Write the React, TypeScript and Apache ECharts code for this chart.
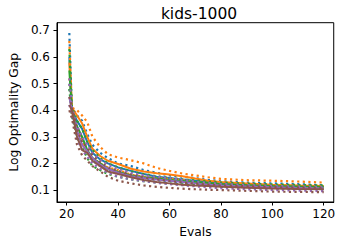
import React, { useEffect, useRef } from "react";
import * as echarts from "echarts";

const evals = [21, 22, 24, 26, 28, 30, 33, 36, 40, 45, 50, 55, 60, 65, 70, 75, 80, 90, 100, 110, 120];

const blueMean = [0.60, 0.40, 0.36, 0.33, 0.28, 0.24, 0.215, 0.200, 0.185, 0.172, 0.160, 0.150, 0.145, 0.140, 0.135, 0.130, 0.125, 0.120, 0.117, 0.115, 0.112];
const blueUpper = [0.69, 0.41, 0.38, 0.36, 0.31, 0.27, 0.240, 0.220, 0.200, 0.190, 0.175, 0.165, 0.155, 0.150, 0.145, 0.138, 0.133, 0.128, 0.125, 0.122, 0.118];
const blueLower = [0.50, 0.38, 0.32, 0.29, 0.24, 0.21, 0.190, 0.178, 0.168, 0.155, 0.145, 0.138, 0.133, 0.128, 0.124, 0.119, 0.115, 0.112, 0.108, 0.106, 0.104];

const orangeMean = [0.58, 0.41, 0.38, 0.35, 0.30, 0.255, 0.228, 0.210, 0.198, 0.180, 0.170, 0.163, 0.158, 0.152, 0.143, 0.135, 0.130, 0.125, 0.120, 0.117, 0.115];
const orangeUpper = [0.66, 0.41, 0.40, 0.38, 0.355, 0.30, 0.262, 0.235, 0.222, 0.212, 0.200, 0.183, 0.172, 0.162, 0.155, 0.148, 0.142, 0.137, 0.135, 0.132, 0.128];
const orangeLower = [0.52, 0.39, 0.33, 0.29, 0.24, 0.22, 0.200, 0.185, 0.175, 0.158, 0.150, 0.145, 0.142, 0.138, 0.130, 0.124, 0.120, 0.115, 0.110, 0.107, 0.105];

const greenMean = [0.55, 0.40, 0.34, 0.30, 0.25, 0.22, 0.200, 0.180, 0.168, 0.155, 0.148, 0.143, 0.138, 0.134, 0.130, 0.126, 0.122, 0.118, 0.115, 0.113, 0.112];
const greenUpper = [0.63, 0.41, 0.36, 0.33, 0.28, 0.25, 0.220, 0.200, 0.185, 0.170, 0.160, 0.152, 0.146, 0.140, 0.136, 0.132, 0.128, 0.124, 0.121, 0.119, 0.117];
const greenLower = [0.48, 0.38, 0.30, 0.26, 0.22, 0.19, 0.175, 0.160, 0.150, 0.140, 0.133, 0.128, 0.124, 0.121, 0.118, 0.115, 0.112, 0.109, 0.106, 0.104, 0.103];

const purpleMean = [0.45, 0.40, 0.32, 0.27, 0.245, 0.22, 0.195, 0.180, 0.165, 0.152, 0.145, 0.140, 0.135, 0.130, 0.125, 0.120, 0.117, 0.113, 0.110, 0.108, 0.106];
const purpleUpper = [0.52, 0.41, 0.34, 0.30, 0.27, 0.24, 0.215, 0.195, 0.180, 0.165, 0.155, 0.150, 0.145, 0.138, 0.132, 0.127, 0.123, 0.119, 0.116, 0.113, 0.112];
const purpleLower = [0.42, 0.38, 0.29, 0.25, 0.225, 0.20, 0.180, 0.165, 0.150, 0.140, 0.133, 0.127, 0.122, 0.118, 0.114, 0.110, 0.107, 0.103, 0.100, 0.098, 0.096];

const brownMean = [0.42, 0.40, 0.30, 0.25, 0.24, 0.21, 0.190, 0.170, 0.160, 0.148, 0.138, 0.130, 0.125, 0.120, 0.117, 0.115, 0.112, 0.109, 0.106, 0.104, 0.103];
const brownUpper = [0.45, 0.41, 0.33, 0.28, 0.26, 0.23, 0.205, 0.185, 0.172, 0.158, 0.148, 0.140, 0.134, 0.128, 0.124, 0.120, 0.117, 0.114, 0.111, 0.109, 0.108];
const brownLower = [0.40, 0.37, 0.27, 0.23, 0.21, 0.19, 0.170, 0.150, 0.135, 0.125, 0.117, 0.112, 0.108, 0.105, 0.103, 0.101, 0.100, 0.097, 0.094, 0.093, 0.092];

const xTicks = [20, 40, 60, 80, 100, 120];
const yTicks = [0.1, 0.2, 0.3, 0.4, 0.5, 0.6, 0.7];

const methods = [
  { color: "#1f77b4", mean: blueMean, upper: blueUpper, lower: blueLower },
  { color: "#ff7f0e", mean: orangeMean, upper: orangeUpper, lower: orangeLower },
  { color: "#2ca02c", mean: greenMean, upper: greenUpper, lower: greenLower },
  { color: "#9467bd", mean: purpleMean, upper: purpleUpper, lower: purpleLower },
  { color: "#8c564b", mean: brownMean, upper: brownUpper, lower: brownLower },
];

const FONT = "DejaVu Sans";

export default function App() {
  const ref = useRef<HTMLDivElement>(null);
  useEffect(() => {
    document.body.style.margin = "0";
    const chart = echarts.init(ref.current!, null, { renderer: "svg" });
    const pairs = (ys: number[]) => evals.map((x, i) => [x, ys[i]]);
    const series: any[] = [];
    methods.forEach((m) => {
      series.push({
        type: "line",
        data: pairs(m.mean),
        showSymbol: false,
        lineStyle: { color: m.color, width: 2 },
        itemStyle: { color: m.color },
      });
      [m.upper, m.lower].forEach((b) => {
        series.push({
          type: "line",
          data: pairs(b),
          showSymbol: false,
          lineStyle: { color: m.color, width: 2.2, type: [2.2, 3.4] },
          itemStyle: { color: m.color },
        });
      });
    });
    chart.setOption({
      animation: false,
      backgroundColor: "#fff",
      title: {
        text: "kids-1000",
        left: 194,
        textAlign: "center",
        top: 1,
        textStyle: { fontFamily: FONT, fontSize: 15.5, fontWeight: "normal", color: "#000" },
      },
      grid: {
        left: 52.7,
        right: 3,
        top: 22.7,
        bottom: 36.3,
        show: true,
        borderColor: "#000",
        borderWidth: 1,
        backgroundColor: "transparent",
      },
      xAxis: {
        type: "value",
        min: 16.2,
        max: 123.9,
        name: "Evals",
        nameLocation: "middle",
        nameGap: 24,
        nameTextStyle: { fontFamily: FONT, fontSize: 12.3, color: "#000" },
        axisLine: { show: true, lineStyle: { color: "#000", width: 1 } },
        axisTick: { show: true, inside: false, length: 3.5, customValues: xTicks, lineStyle: { color: "#000" } },
        axisLabel: { customValues: xTicks, margin: 6, fontFamily: FONT, fontSize: 12, color: "#000" },
        splitLine: { show: false },
      },
      yAxis: {
        type: "value",
        min: 0.055,
        max: 0.729,
        name: "Log Optimality Gap",
        nameLocation: "middle",
        nameGap: 34,
        nameTextStyle: { fontFamily: FONT, fontSize: 12.3, color: "#000" },
        axisLine: { show: true, lineStyle: { color: "#000", width: 1 } },
        axisTick: { show: true, inside: false, length: 3.5, customValues: yTicks, lineStyle: { color: "#000" } },
        axisLabel: {
          customValues: yTicks,
          margin: 7,
          formatter: (v: number) => v.toFixed(1),
          fontFamily: FONT,
          fontSize: 12,
          color: "#000",
        },
        splitLine: { show: false },
      },
      series,
    });
    return () => chart.dispose();
  }, []);
  return <div ref={ref} style={{ width: 338, height: 243 }} />;
}
